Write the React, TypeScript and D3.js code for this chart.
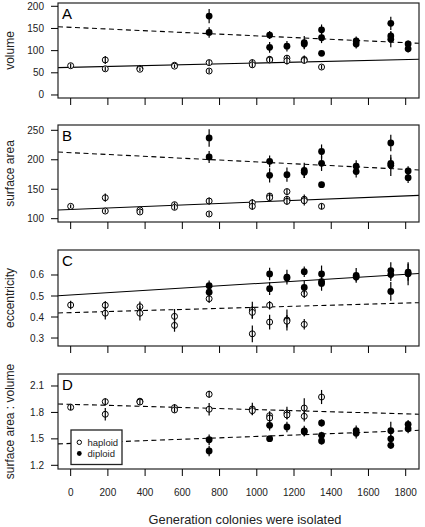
import React from "react";
import * as d3 from "d3";

// Generations at which colonies were isolated
const generations = [0, 186, 372, 558, 744, 976, 1069, 1162, 1255, 1348, 1534, 1720, 1813];
const xTicks = [0, 200, 400, 600, 800, 1000, 1200, 1400, 1600, 1800];

// [generation, mean, error half-width]
const volumeHaploid = [
  [0, 66, 5], [186, 79, 9], [186, 59, 5], [372, 60, 4], [372, 58, 4], [558, 67, 4], [558, 65, 4],
  [744, 73, 6], [744, 54, 5], [976, 73, 7], [976, 68, 6], [1069, 80.5, 6], [1069, 79, 6],
  [1162, 83, 7], [1162, 77, 8], [1255, 80, 9], [1255, 78, 7], [1348, 63, 5],
];
const volumeDiploid = [
  [744, 178, 16], [744, 141, 12], [1069, 135, 9], [1069, 107.5, 12], [1162, 110, 12],
  [1255, 118, 15], [1255, 115, 10], [1348, 147, 12], [1348, 129, 12], [1348, 94, 5],
  [1534, 122, 10], [1534, 115, 10], [1720, 161.6, 15], [1720, 133, 10], [1720, 125.6, 18],
  [1813, 115, 8], [1813, 104, 8],
];
const areaHaploid = [
  [0, 121, 3], [186, 135.6, 7], [186, 113, 3], [372, 114.8, 3], [372, 111.4, 3], [558, 123.8, 4],
  [558, 119.3, 4], [744, 130, 6], [744, 108, 4], [976, 127, 6], [976, 121, 6], [1069, 138.5, 5],
  [1069, 135.6, 5], [1162, 146, 5], [1162, 133, 6], [1162, 129.5, 6], [1255, 133, 8],
  [1255, 130.5, 8], [1348, 121, 5],
];
const areaDiploid = [
  [744, 237, 15], [744, 204.7, 10], [1069, 197.4, 10], [1069, 173.6, 12], [1162, 174.7, 12],
  [1255, 182, 13], [1255, 179, 10], [1348, 214, 12], [1348, 194, 13], [1348, 157.7, 5],
  [1534, 189, 10], [1534, 180, 10], [1720, 228.5, 14], [1720, 194, 10], [1720, 190.6, 18],
  [1813, 181, 8], [1813, 169.6, 9],
];
const eccHaploid = [
  [0, 0.457, 0.02], [186, 0.456, 0.02], [186, 0.418, 0.03], [372, 0.449, 0.025], [372, 0.418, 0.035],
  [558, 0.403, 0.035], [558, 0.36, 0.03], [744, 0.487, 0.02], [976, 0.433, 0.04], [976, 0.422, 0.03],
  [976, 0.32, 0.04], [1069, 0.456, 0.02], [1069, 0.376, 0.035], [1162, 0.386, 0.05],
  [1162, 0.38, 0.03], [1255, 0.511, 0.02], [1255, 0.365, 0.025],
];
const eccDiploid = [
  [744, 0.549, 0.025], [744, 0.518, 0.02], [1069, 0.605, 0.03], [1069, 0.535, 0.03],
  [1162, 0.59, 0.035], [1162, 0.586, 0.02], [1255, 0.616, 0.025], [1255, 0.541, 0.03],
  [1348, 0.605, 0.04], [1348, 0.568, 0.025], [1348, 0.56, 0.035], [1534, 0.598, 0.035],
  [1534, 0.59, 0.02], [1720, 0.621, 0.04], [1720, 0.602, 0.03], [1720, 0.522, 0.045],
  [1813, 0.613, 0.04], [1813, 0.606, 0.055],
];
const ratioHaploid = [
  [0, 1.858, 0.03], [186, 1.922, 0.04], [186, 1.779, 0.07], [372, 1.927, 0.03], [372, 1.918, 0.03],
  [558, 1.854, 0.04], [558, 1.828, 0.03], [744, 2.006, 0.04], [744, 1.836, 0.07], [976, 1.839, 0.07],
  [976, 1.82, 0.05], [1069, 1.763, 0.05], [1069, 1.737, 0.05], [1162, 1.794, 0.07],
  [1162, 1.771, 0.05], [1255, 1.85, 0.11], [1255, 1.756, 0.06], [1348, 1.975, 0.08],
];
const ratioDiploid = [
  [744, 1.49, 0.06], [744, 1.362, 0.06], [1069, 1.654, 0.06], [1069, 1.502, 0.03], [1162, 1.635, 0.06],
  [1255, 1.59, 0.06], [1255, 1.58, 0.05], [1348, 1.68, 0.04], [1348, 1.54, 0.04], [1348, 1.476, 0.04],
  [1534, 1.593, 0.06], [1534, 1.563, 0.06], [1720, 1.593, 0.1], [1720, 1.5, 0.05], [1720, 1.427, 0.04],
  [1813, 1.665, 0.05], [1813, 1.615, 0.05],
];

// Fitted lines: [intercept, slope, dashed?]
const volumeFits = [[62.4, 0.00967, false], [152.6, -0.0193, true]];
const areaFits = [[115.7, 0.0128, false], [212.1, -0.01574, true]];
const eccFits = [[0.505, 0.0000545, false], [0.421, 0.0000252, true]];
const ratioFits = [[1.892, -0.0000602, true], [1.448, 0.0000797, true]];

const panelLetters = ["A", "B", "C", "D"];
const yTitles = ["volume", "surface area", "eccentricity", "surface area : volume"];
const yTickSets = [
  [0, 50, 100, 150, 200],
  [100, 150, 200, 250],
  [0.3, 0.4, 0.5, 0.6],
  [1.2, 1.5, 1.8, 2.1],
];
const yDomains = [
  [-6.8, 207.4],
  [94.4, 259],
  [0.262, 0.719],
  [1.158, 2.236],
];
const legendLabels = ["haploid", "diploid"];

const FONT = "'Liberation Sans', Arial, Helvetica, sans-serif";
const W = 425;
const H = 527;
const LEFT = 58;
const RIGHT = 419;
const tops = [3, 125, 250, 374];
const bottoms = [98, 222, 346, 469];

const panels = [
  { hap: volumeHaploid, dip: volumeDiploid, fits: volumeFits, fmt: (v: number) => String(v) },
  { hap: areaHaploid, dip: areaDiploid, fits: areaFits, fmt: (v: number) => String(v) },
  { hap: eccHaploid, dip: eccDiploid, fits: eccFits, fmt: (v: number) => v.toFixed(1) },
  { hap: ratioHaploid, dip: ratioDiploid, fits: ratioFits, fmt: (v: number) => v.toFixed(1) },
];

export default function App() {
  const x = d3.scaleLinear().domain([-68, 1871.5]).range([LEFT, RIGHT]);
  void generations;
  return (
    <svg width={W} height={H} style={{ position: "absolute", left: 0, top: 0, background: "#fff" }} fontFamily={FONT}>
      <rect x={0} y={0} width={W} height={H} fill="#fff" />
      <defs>
        {panels.map((_, i) => (
          <clipPath id={`clip${i}`} key={i}>
            <rect x={LEFT} y={tops[i]} width={RIGHT - LEFT} height={bottoms[i] - tops[i]} />
          </clipPath>
        ))}
      </defs>
      {panels.map((p, i) => {
        const y = d3.scaleLinear().domain(yDomains[i]).range([bottoms[i], tops[i]]);
        const x0 = x.domain()[0];
        const x1 = x.domain()[1];
        const mid = (tops[i] + bottoms[i]) / 2;
        return (
          <g key={i}>
            {/* fitted lines */}
            <g clipPath={`url(#clip${i})`}>
              {p.fits.map((f, k) => {
                const [a, b, dashed] = f as [number, number, boolean];
                return (
                  <line
                    key={k}
                    x1={x(x0)}
                    x2={x(x1)}
                    y1={y(a + b * x0)}
                    y2={y(a + b * x1)}
                    stroke="#000"
                    strokeWidth={1.1}
                    strokeDasharray={dashed ? "5,3.5" : undefined}
                  />
                );
              })}
            </g>
            {/* haploid: open circles */}
            {p.hap.map((d, k) => (
              <g key={`h${k}`}>
                <circle cx={x(d[0])} cy={y(d[1])} r={3} fill="#fff" stroke="#000" strokeWidth={1} />
                <line x1={x(d[0])} x2={x(d[0])} y1={y(d[1] - d[2])} y2={y(d[1] + d[2])} stroke="#000" strokeWidth={1.2} />
              </g>
            ))}
            {/* diploid: filled circles */}
            {p.dip.map((d, k) => (
              <g key={`d${k}`}>
                <line x1={x(d[0])} x2={x(d[0])} y1={y(d[1] - d[2])} y2={y(d[1] + d[2])} stroke="#000" strokeWidth={1.2} />
                <circle cx={x(d[0])} cy={y(d[1])} r={3.4} fill="#000" />
              </g>
            ))}
            {/* box */}
            <rect x={LEFT} y={tops[i]} width={RIGHT - LEFT} height={bottoms[i] - tops[i]} fill="none" stroke="#222" strokeWidth={1.2} />
            {/* y axis */}
            {yTickSets[i].map((t) => (
              <g key={t}>
                <line x1={LEFT - 7} x2={LEFT} y1={y(t)} y2={y(t)} stroke="#000" strokeWidth={1} />
                <text x={LEFT - 14} y={y(t)} dy="0.35em" textAnchor="end" fontSize={10} fill="#222">
                  {p.fmt(t)}
                </text>
              </g>
            ))}
            {/* x ticks */}
            {xTicks.map((t) => (
              <line key={t} x1={x(t)} x2={x(t)} y1={bottoms[i]} y2={bottoms[i] + 7} stroke="#000" strokeWidth={1} />
            ))}
            {i === 3 &&
              xTicks.map((t) => (
                <text key={`l${t}`} x={x(t)} y={495.5} textAnchor="middle" fontSize={10} fill="#222">
                  {t}
                </text>
              ))}
            {/* y title */}
            <text transform={`translate(13.5, ${mid}) rotate(-90)`} textAnchor="middle" fontSize={12} fill="#222">
              {yTitles[i]}
            </text>
            {/* panel letter */}
            <text x={62} y={tops[i] + 16} fontSize={15} fill="#000">
              {panelLetters[i]}
            </text>
          </g>
        );
      })}
      {/* legend */}
      <g>
        <rect x={71} y={430} width={51} height={34.5} fill="#fff" stroke="#222" strokeWidth={1.3} />
        <circle cx={79.3} cy={442.3} r={2.2} fill="#fff" stroke="#000" strokeWidth={1} />
        <circle cx={79.3} cy={453.5} r={2.4} fill="#000" />
        <text x={87.5} y={445.5} fontSize={9.5} fill="#222">{legendLabels[0]}</text>
        <text x={87.5} y={456.7} fontSize={9.5} fill="#222">{legendLabels[1]}</text>
      </g>
      <text x={245} y={523.5} textAnchor="middle" fontSize={12.8} fill="#222">
        Generation colonies were isolated
      </text>
    </svg>
  );
}
